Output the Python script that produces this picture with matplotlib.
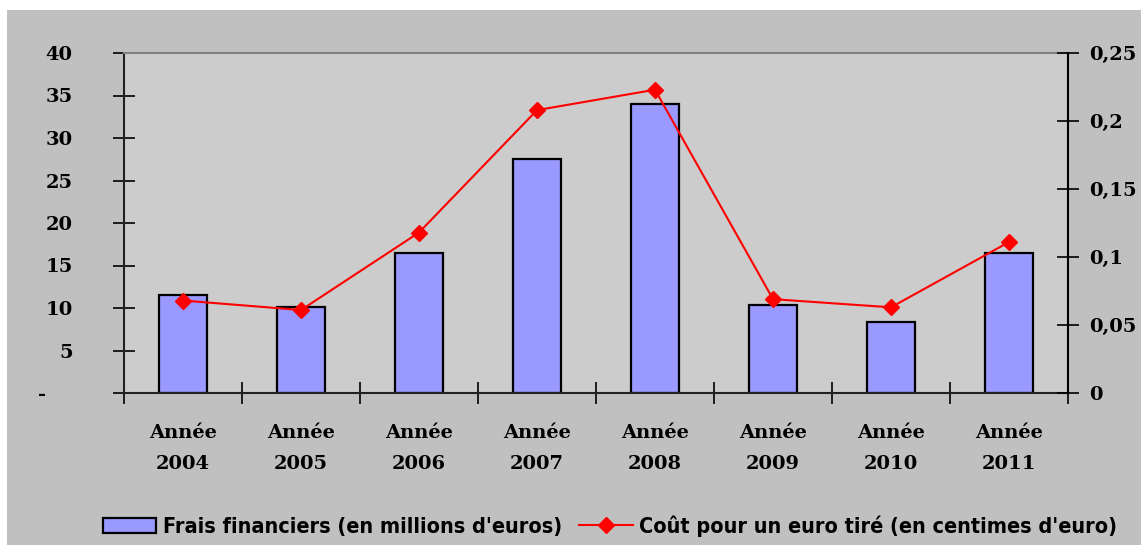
import matplotlib
matplotlib.use("Agg")
import matplotlib.pyplot as plt
from matplotlib.patches import Rectangle
from matplotlib.ticker import FixedLocator, FixedFormatter
import matplotlib.transforms as mtransforms
from matplotlib import font_manager
import numpy as np

categories = ["Année\n2004", "Année\n2005", "Année\n2006", "Année\n2007",
              "Année\n2008", "Année\n2009", "Année\n2010", "Année\n2011"]
frais = [11.5, 10.1, 16.5, 27.5, 34.0, 10.35, 8.35, 16.5]
cout = [0.068, 0.061, 0.118, 0.208, 0.223, 0.069, 0.063, 0.111]
left_ticks = [0, 5, 10, 15, 20, 25, 30, 35, 40]
left_labels = ["-", "5", "10", "15", "20", "25", "30", "35", "40"]
right_ticks = [0, 0.05, 0.1, 0.15, 0.2, 0.25]
right_labels = ["0", "0,05", "0,1", "0,15", "0,2", "0,25"]

W, H = 1141, 545
fig = plt.figure(figsize=(W/100, H/100), dpi=100, facecolor="white")
fig.patches.append(Rectangle((7/W, 0), 1 - 7/W, (H - 10)/H, transform=fig.transFigure,
                             facecolor="#c0c0c0", edgecolor="none", zorder=-10))

l, r, t, b = 124, 1068, 53, 393
ax = fig.add_axes([l/W, 1 - b/H, (r - l)/W, (b - t)/H])
ax.set_facecolor("#cccccc")
x = np.arange(len(categories))
bars = ax.bar(x, frais, width=0.41, color="#9999ff", edgecolor="black", linewidth=1.6,
              label="Frais financiers (en millions d'euros)", zorder=2)
ax.set_xlim(-0.5, len(categories) - 0.5)
ax.set_ylim(0, 40)

serif = ["DejaVu Serif"]
ax.yaxis.set_major_locator(FixedLocator(left_ticks))
ax.yaxis.set_major_formatter(FixedFormatter(left_labels))
ax.set_xticks(x)
ax.set_xticklabels(categories)
ax.set_xticks(np.arange(-0.5, len(categories)), minor=True)
ax.tick_params(axis="x", which="major", length=0, pad=22)
ax.tick_params(axis="x", which="minor", direction="inout", length=16, width=1.2)
ax.tick_params(axis="y", direction="inout", length=16, width=1.2, pad=29)
for lab in ax.get_yticklabels():
    lab.set_fontfamily(serif); lab.set_fontweight("bold"); lab.set_fontsize(14)
    lab.set_horizontalalignment("right")
for lab in ax.get_xticklabels():
    lab.set_fontfamily(serif); lab.set_fontweight("bold"); lab.set_fontsize(14)
    lab.set_linespacing(1.95)
# accounting-style dash for zero sits further left
dash = ax.get_yticklabels()[0]
dash.set_transform(dash.get_transform() + mtransforms.ScaledTranslation(-27/100, 0, fig.dpi_scale_trans))

for s in ["left", "bottom"]:
    ax.spines[s].set_color("#222222"); ax.spines[s].set_linewidth(1.5)
ax.spines["top"].set_color("#808080"); ax.spines["top"].set_linewidth(1.5)
ax.spines["right"].set_visible(False)

ax2 = ax.twinx()
line, = ax2.plot(x, cout, color="red", linewidth=1.5, marker="D", markersize=8,
                 label="Coût pour un euro tiré (en centimes d'euro)", zorder=3)
ax2.set_ylim(0, 0.25)
ax2.yaxis.set_major_locator(FixedLocator(right_ticks))
ax2.yaxis.set_major_formatter(FixedFormatter(right_labels))
ax2.tick_params(axis="y", direction="inout", length=16, width=1.2, pad=7)
for lab in ax2.get_yticklabels():
    lab.set_fontfamily(serif); lab.set_fontweight("bold"); lab.set_fontsize(14)
for s in ["left", "bottom", "top"]:
    ax2.spines[s].set_visible(False)
ax2.spines["right"].set_color("black"); ax2.spines["right"].set_linewidth(1.5)

legfont = font_manager.FontProperties(family=["DejaVu Sans"], stretch="condensed",
                                      weight="bold", size=15.5)
leg = fig.legend([bars, line], [bars.get_label(), line.get_label()],
                 loc="center", bbox_to_anchor=(610/W, 1 - 526/H), ncol=2, frameon=False,
                 prop=legfont, handlelength=2.5, handletextpad=0.3, columnspacing=0.8)

fig.savefig("out.png", dpi=100, facecolor="white")
